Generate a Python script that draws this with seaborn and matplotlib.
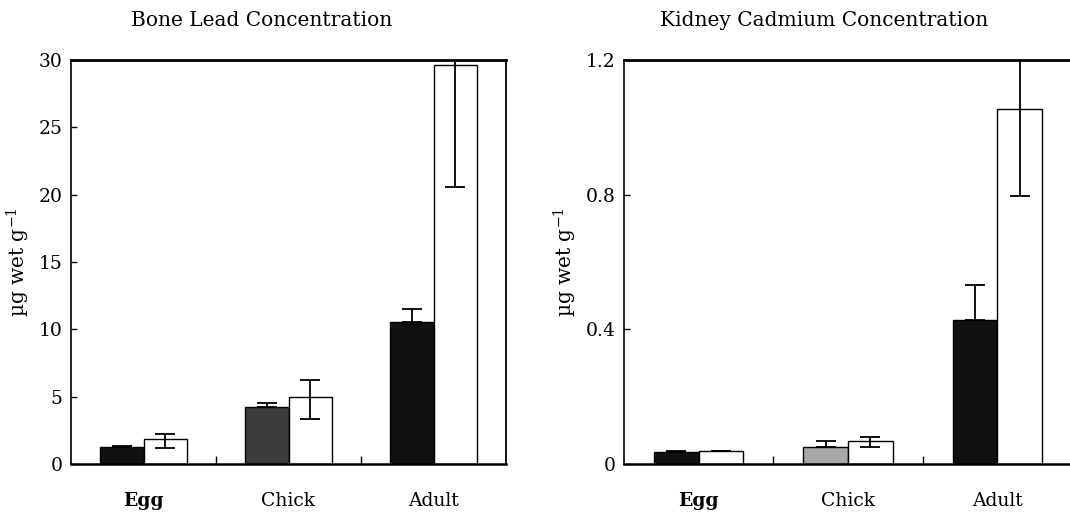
import numpy as np
import pandas as pd
import matplotlib
matplotlib.use("Agg")
import matplotlib.pyplot as plt
import seaborn as sns

# Data
stages = ["Egg", "Chick", "Adult"]
groups = ["dark", "white"]

lead_dark = [1.29, 4.2, 10.55]
lead_dark_hi = [0.05, 0.3, 0.95]
lead_white = [1.85, 4.95, 29.6]
lead_white_lo = [0.64, 1.61, 9.0]
lead_white_hi = [0.35, 1.31, 0.8]

cd_dark = [0.035, 0.051, 0.428]
cd_dark_hi = [0.005, 0.018, 0.105]
cd_white = [0.038, 0.067, 1.054]
cd_white_lo = [0.0, 0.017, 0.257]
cd_white_hi = [0.0, 0.012, 0.156]

sns.set_theme(style="white")
plt.rcParams["font.family"] = ["DejaVu Serif"]
plt.rcParams["mathtext.fontset"] = "dejavuserif"
plt.rcParams["text.color"] = "black"
plt.rcParams["xtick.color"] = "black"
plt.rcParams["ytick.color"] = "black"
plt.rcParams["axes.labelcolor"] = "black"


def make_frame(dark, white):
    return pd.DataFrame({
        "stage": stages * 2,
        "group": [groups[0]] * 3 + [groups[1]] * 3,
        "value": list(dark) + list(white),
    })


def draw_panel(ax, df, dark_hi, white_lo, white_hi, chick_color, ymax, yticks, ytlabels):
    sns.barplot(data=df, x="stage", y="value", hue="group", order=stages,
                hue_order=groups, palette={"dark": "#111111", "white": "white"},
                width=0.6, errorbar=None, edgecolor="black", linewidth=1.0,
                legend=False, ax=ax)
    dark_bars, white_bars = ax.containers[0], ax.containers[1]
    dark_bars[1].set_facecolor(chick_color)

    dvals = df[df.group == "dark"]["value"].to_numpy()
    wvals = df[df.group == "white"]["value"].to_numpy()
    xd = [p.get_x() + p.get_width() / 2 for p in dark_bars]
    xw = [p.get_x() + p.get_width() / 2 for p in white_bars]
    ax.errorbar(xd, dvals, yerr=[np.zeros(3), dark_hi], fmt="none",
                ecolor="black", elinewidth=1.3, capsize=7, capthick=1.3, zorder=5)
    ax.errorbar(xw, wvals, yerr=[white_lo, white_hi], fmt="none",
                ecolor="black", elinewidth=1.3, capsize=7, capthick=1.3, zorder=5)

    ax.set_xlim(-0.5, 2.5)
    ax.set_ylim(0, ymax)
    ax.set_yticks(yticks)
    ax.set_yticklabels(ytlabels)
    ax.set_xlabel("")
    ax.set_ylabel("µg wet g$^{-1}$", fontsize=14.5, labelpad=5)
    ax.set_xticks([0, 1, 2])
    ax.set_xticklabels(stages)
    ax.get_xticklabels()[0].set_fontweight("bold")
    ax.set_xticks([0.5, 1.5], minor=True)
    ax.tick_params(axis="x", which="major", length=0, pad=20, labelsize=13.5)
    ax.tick_params(axis="x", which="minor", direction="in", length=6,
                   width=1.0, bottom=True)
    ax.tick_params(axis="y", direction="in", length=4, width=1.0, left=True,
                   labelsize=13.5, pad=6)
    for side, lw in [("top", 2.0), ("bottom", 1.8), ("left", 1.2), ("right", 1.3)]:
        ax.spines[side].set_visible(True)
        ax.spines[side].set_color("black")
        ax.spines[side].set_linewidth(lw)


fig = plt.figure(figsize=(10.7, 5.14), dpi=100)
ax1 = fig.add_axes([71 / 1070, 50 / 514, 435 / 1070, 404 / 514])
ax2 = fig.add_axes([624 / 1070, 50 / 514, 448 / 1070, 404 / 514])

draw_panel(ax1, make_frame(lead_dark, lead_white), lead_dark_hi, lead_white_lo,
           lead_white_hi, "#3c3c3c", 30, [0, 5, 10, 15, 20, 25, 30],
           ["0", "5", "10", "15", "20", "25", "30"])
draw_panel(ax2, make_frame(cd_dark, cd_white), cd_dark_hi, cd_white_lo,
           cd_white_hi, "#a8a8a8", 1.2, [0, 0.4, 0.8, 1.2],
           ["0", "0.4", "0.8", "1.2"])

fig.text(262 / 1070, 1 - 20 / 514, "Bone Lead Concentration", ha="center",
         va="center", fontsize=14.5)
fig.text(824 / 1070, 1 - 20 / 514, "Kidney Cadmium Concentration", ha="center",
         va="center", fontsize=14.5)

fig.savefig("out.png", dpi=100)
